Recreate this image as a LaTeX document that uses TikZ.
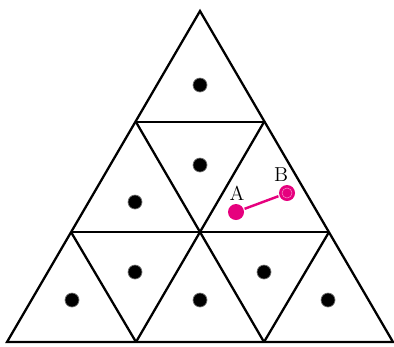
\documentclass[tikz,border=0pt]{standalone}
\definecolor{pinkdot}{RGB}{230,0,126}
\begin{document}
\begin{tikzpicture}[x=0.02cm, y=-0.02cm, line width=1.3pt, line join=miter,
  dot/.style={circle, fill=black, draw=black!55, line width=0.4pt, inner sep=0pt, minimum size=0.28cm},
  pdot/.style={circle, fill=pinkdot, inner sep=0pt, minimum size=0.32cm},
  lbl/.style={font=\fontsize{11.5}{13}\selectfont, inner sep=0pt}]
	\useasboundingbox (0,0) rectangle (394,346);
	% 1. Eckpunkte des Gitters
	\coordinate (a1) at (200,11);
	\coordinate (b1) at (136,122);
	\coordinate (b2) at (264,122);
	\coordinate (c1) at (71,232);
	\coordinate (c2) at (200,232);
	\coordinate (c3) at (329,232);
	\coordinate (d1) at (7,342);
	\coordinate (d2) at (136,342);
	\coordinate (d3) at (264,342);
	\coordinate (d4) at (393,342);
	
	% 2. Dreiecke
	\draw (a1) -- (d1) -- (d4) -- cycle;
	\draw (b1) -- (b2);
	\draw (c1) -- (c3);
	\draw (b1) -- (c2) -- (d3);
	\draw (b2) -- (c2) -- (d2);
	\draw (c1) -- (d2);
	\draw (c3) -- (d3);
	
	% 3. Punkte in den Dreiecken
	\node[dot] (p1) at (200,85) {};
	\node[dot] (p2) at (200,165) {};
	\node[dot] (p3) at (135,202) {};
	\node[dot] (p4) at (135,272) {};
	\node[dot] (p5) at (72,300) {};
	\node[dot] (p6) at (200,300) {};
	\node[dot] (p7) at (264,272) {};
	\node[dot] (p8) at (328,300) {};
	
	% 4. A und B
	\node[pdot] (A) at (236,212) {};
	\node[pdot] (B) at (287,193) {};
	\draw[pinkdot, line width=1.4pt] (A) -- (B);
	\draw[pinkdot!45!white, line width=0.3pt] (B) circle (5);
	\node[lbl] (lA) at (237,193) {A};
	\node[lbl] (lB) at (281,175) {B};
\end{tikzpicture}
\end{document}
